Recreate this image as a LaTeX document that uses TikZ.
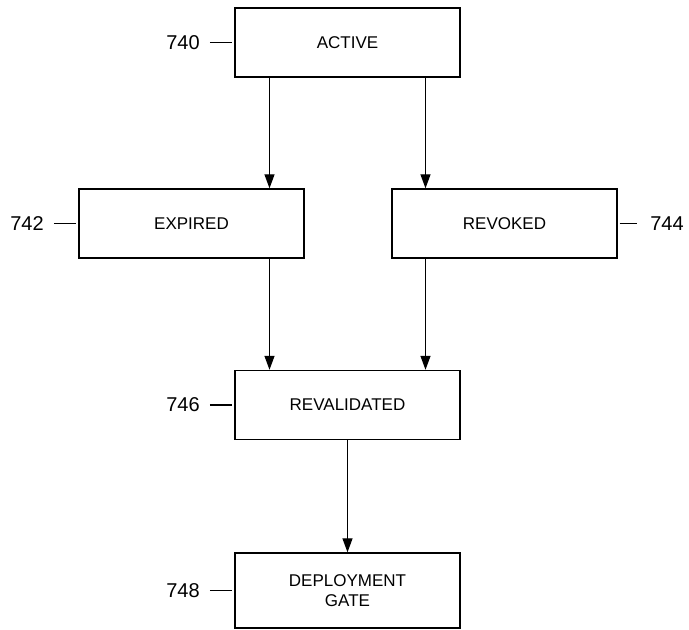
\documentclass[tikz,border=0pt]{standalone}
\usepackage{fontspec}
\setmainfont{Liberation Sans}
\usetikzlibrary{arrows.meta}

\tikzset{
  statebox/.style={draw, line width=1.4pt, minimum width=225pt, minimum height=69pt,
    inner sep=0pt, align=center, font=\fontsize{17}{20}\selectfont},
  reflabel/.style={inner sep=0pt, font=\fontsize{20}{24}\selectfont},
  refline/.style={line width=1.3pt},
  arr/.style={line width=1.3pt, -{Triangle[length=14pt,width=10pt]}}
}

\begin{document}
\begin{tikzpicture}[x=1pt, y=-1pt]
  \useasboundingbox (0,0) rectangle (689,630);

  % states
  \node[statebox] (active) at (347.5,42.5) {ACTIVE};
  \node[statebox] (expired) at (191.5,223.5) {EXPIRED};
  \node[statebox] (revoked) at (504.5,223.5) {REVOKED};
  \node[statebox] (revalidated) at (347.5,405) {REVALIDATED};
  \node[statebox, minimum height=75pt] (gate) at (347.5,590.5) {DEPLOYMENT\\GATE};

  % reference numerals
  \node[reflabel] (l740) at (183,42.5) {740};
  \node[reflabel] (l742) at (27,223.5) {742};
  \node[reflabel] (l744) at (667,223.5) {744};
  \node[reflabel] (l746) at (183,405) {746};
  \node[reflabel] (l748) at (183,590.5) {748};

  \draw[refline] ([xshift=10pt]l740.east) -- ([xshift=-2pt]active.west);
  \draw[refline] ([xshift=10pt]l742.east) -- ([xshift=-2pt]expired.west);
  \draw[refline] ([xshift=2pt]revoked.east) -- ([xshift=-13pt]l744.west);
  \draw[refline] ([xshift=10pt]l746.east) -- ([xshift=-2pt]revalidated.west);
  \draw[refline] ([xshift=10pt]l748.east) -- ([xshift=-2pt]gate.west);

  % transitions
  \draw[arr] ([xshift=-78pt]active.south) -- ([xshift=-78pt]active.south |- expired.north);
  \draw[arr] ([xshift=78pt]active.south) -- ([xshift=78pt]active.south |- revoked.north);
  \draw[arr] ([xshift=-78pt]revalidated.north |- expired.south) -- ([xshift=-78pt]revalidated.north);
  \draw[arr] ([xshift=78pt]revalidated.north |- revoked.south) -- ([xshift=78pt]revalidated.north);
  \draw[arr] (revalidated.south) -- (gate.north);
\end{tikzpicture}
\end{document}
